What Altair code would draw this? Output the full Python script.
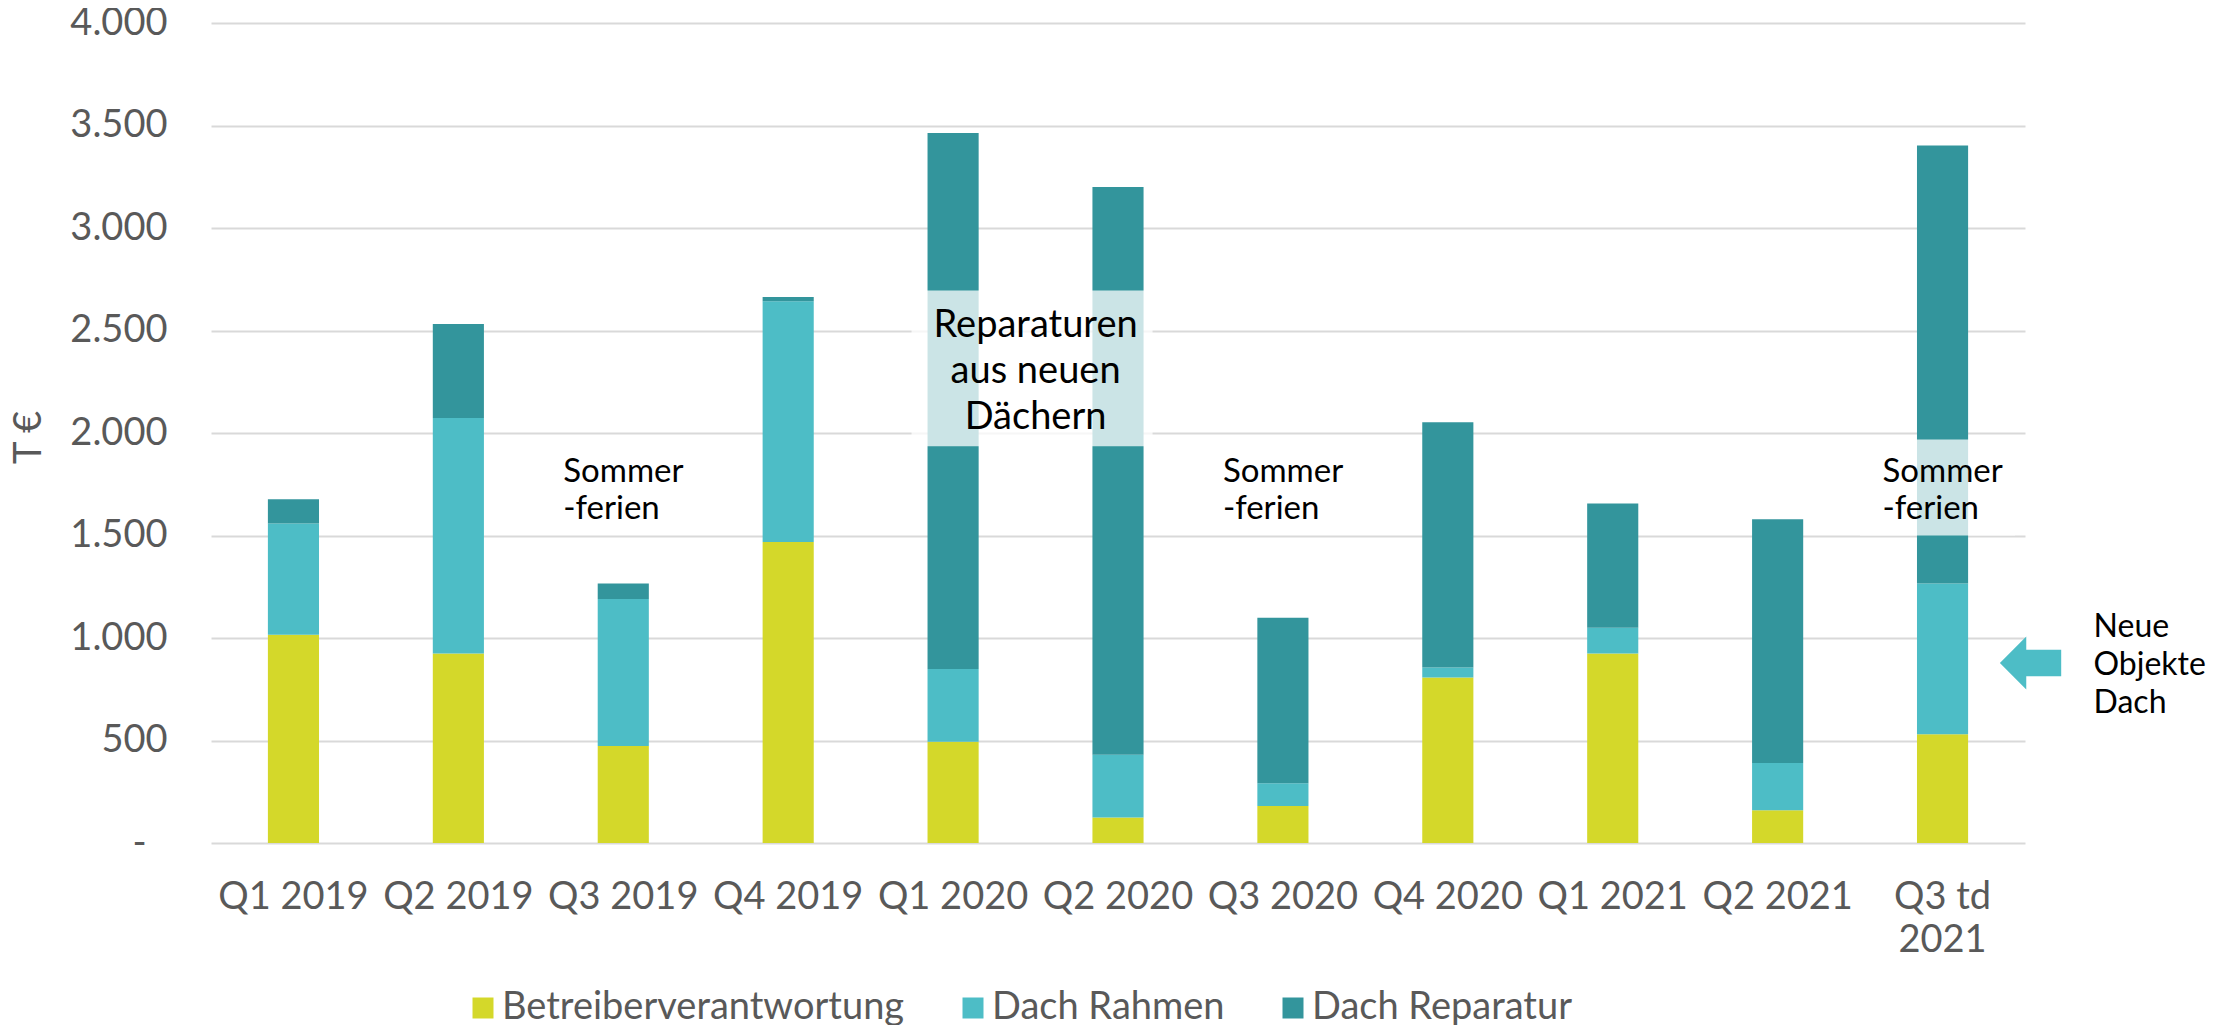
import altair as alt
import pandas as pd

quarters = ["Q1 2019", "Q2 2019", "Q3 2019", "Q4 2019", "Q1 2020", "Q2 2020",
            "Q3 2020", "Q4 2020", "Q1 2021", "Q2 2021", "Q3 td 2021"]
series = ["Betreiberverantwortung", "Dach Rahmen", "Dach Reparatur"]
colors = ["#D4D82A", "#4DBDC6", "#33959C"]

betreiber = [1016, 925, 473, 1468, 494, 125, 181, 807, 925, 160, 530]
dach_rahmen = [542, 1148, 717, 1175, 355, 306, 111, 49, 125, 230, 736]
dach_reparatur = [119, 459, 76, 21, 2615, 2769, 807, 1196, 606, 1189, 2137]

y_ticks = [0, 500, 1000, 1500, 2000, 2500, 3000, 3500, 4000]

rows = []
for i, q in enumerate(quarters):
    for k, (s, vals) in enumerate(zip(series, [betreiber, dach_rahmen, dach_reparatur])):
        rows.append({"Quartal": q, "Serie": s, "Wert": vals[i], "ord": k})
df = pd.DataFrame(rows)

FONT = "Lato"
GREY = "#595959"
x_scale = alt.Scale(domain=quarters, paddingInner=0.69, paddingOuter=0.345)
y_scale = alt.Scale(domain=[0, 4000], nice=False)

bars = alt.Chart(df).mark_bar().encode(
    x=alt.X("Quartal:N", scale=x_scale, sort=quarters,
            axis=alt.Axis(title=None, labelAngle=0, ticks=False, domain=False,
                          labelFont=FONT, labelFontSize=38, labelColor=GREY,
                          labelPadding=35, labelLineHeight=43,
                          labelExpr="datum.value == 'Q3 td 2021' ? ['Q3 td', '2021'] : datum.value")),
    y=alt.Y("Wert:Q", stack="zero", scale=y_scale,
            axis=alt.Axis(title="T €", values=y_ticks, ticks=False, domain=False,
                          labelFont=FONT, labelFontSize=38, labelColor=GREY,
                          labelPadding={"condition": {"test": "datum.value === 0", "value": 65}, "value": 44},
                          gridColor="#D9D9D9", gridWidth=2,
                          titleFont=FONT, titleFontSize=38, titleFontWeight="normal",
                          titleColor=GREY, titleX=-182, titleY=414, titleBaseline="middle",
                          labelExpr="datum.value == 0 ? '-' : replace(format(datum.value, ','), ',', '.')")),
    color=alt.Color("Serie:N", scale=alt.Scale(domain=series, range=colors),
                    legend=alt.Legend(title=None, orient="none", legendX=253, legendY=966,
                                      direction="horizontal", labelFont=FONT,
                                      labelFontSize=38, labelColor=GREY,
                                      symbolType="square", symbolSize=441,
                                      symbolStrokeWidth=0, columnPadding=49,
                                      labelOffset=0, labelLimit=600)),
    order=alt.Order("ord:Q"),
)

# Annotation boxes (white veil)
box1 = pd.DataFrame([{"a": "Q1 2020", "b": "Q2 2020", "y0": 1935, "y1": 2695}])
box2 = pd.DataFrame([{"a": "Q3 td 2021", "b": "Q3 td 2021", "y0": 1500, "y1": 1968}])

veil1 = alt.Chart(box1).mark_rect(color="white", opacity=0.75, xOffset=-16, x2Offset=9).encode(
    x=alt.X("a:N", scale=x_scale, bandPosition=0),
    x2=alt.X2("b", bandPosition=1),
    y=alt.Y("y0:Q", scale=y_scale),
    y2="y1:Q",
)
veil2 = alt.Chart(box2).mark_rect(color="white", opacity=0.75, xOffset=-57, x2Offset=47).encode(
    x=alt.X("a:N", scale=x_scale, bandPosition=0),
    x2=alt.X2("b", bandPosition=1),
    y=alt.Y("y0:Q", scale=y_scale),
    y2="y1:Q",
)

rep_text = pd.DataFrame([{"q": "Q1 2020", "y": 2522, "t": "Reparaturen\naus neuen\nDächern"}])
rep = alt.Chart(rep_text).mark_text(font=FONT, fontSize=38, lineHeight=46, lineBreak="\n",
                                     align="center", baseline="middle", color="black", dx=82.5).encode(
    x=alt.X("q:N", scale=x_scale), y=alt.Y("y:Q", scale=y_scale), text="t:N")

sommer_df = pd.DataFrame([{"q": q, "y": 1812, "t": "Sommer\n-ferien"}
                          for q in ["Q3 2019", "Q3 2020", "Q3 td 2021"]])
sommer = alt.Chart(sommer_df).mark_text(font=FONT, fontSize=33, lineHeight=37, lineBreak="\n",
                                         align="left", baseline="middle", color="black", dx=-60).encode(
    x=alt.X("q:N", scale=x_scale), y=alt.Y("y:Q", scale=y_scale), text="t:N")

arrow_df = pd.DataFrame([{"q": "Q3 td 2021", "y": 878}])
arrow_path = "M -1 0 L -0.14 -0.865 L -0.14 -0.435 L 1 -0.435 L 1 0.435 L -0.14 0.435 L -0.14 0.865 Z"
arrow = alt.Chart(arrow_df).mark_point(shape=arrow_path, filled=True, size=3758, color="#4DBDC6",
                                        opacity=1, strokeWidth=0, xOffset=88).encode(
    x=alt.X("q:N", scale=x_scale), y=alt.Y("y:Q", scale=y_scale))

neue_df = pd.DataFrame([{"q": "Q3 td 2021", "y": 1056, "t": "Neue\nObjekte\nDach"}])
neue = alt.Chart(neue_df).mark_text(font=FONT, fontSize=32, lineHeight=38, lineBreak="\n",
                                     align="left", baseline="middle", color="black", dx=151).encode(
    x=alt.X("q:N", scale=x_scale), y=alt.Y("y:Q", scale=y_scale), text="t:N")

chart = alt.layer(bars, veil1, veil2, rep, sommer, arrow, neue).properties(
    width=1814, height=820,
    padding={"left": 203, "top": 15, "right": 203, "bottom": 182},
    autosize=alt.AutoSizeParams(type="none"),
).configure_view(stroke=None)

chart.save("out.html", embed_options={"renderer": "svg", "actions": False})
